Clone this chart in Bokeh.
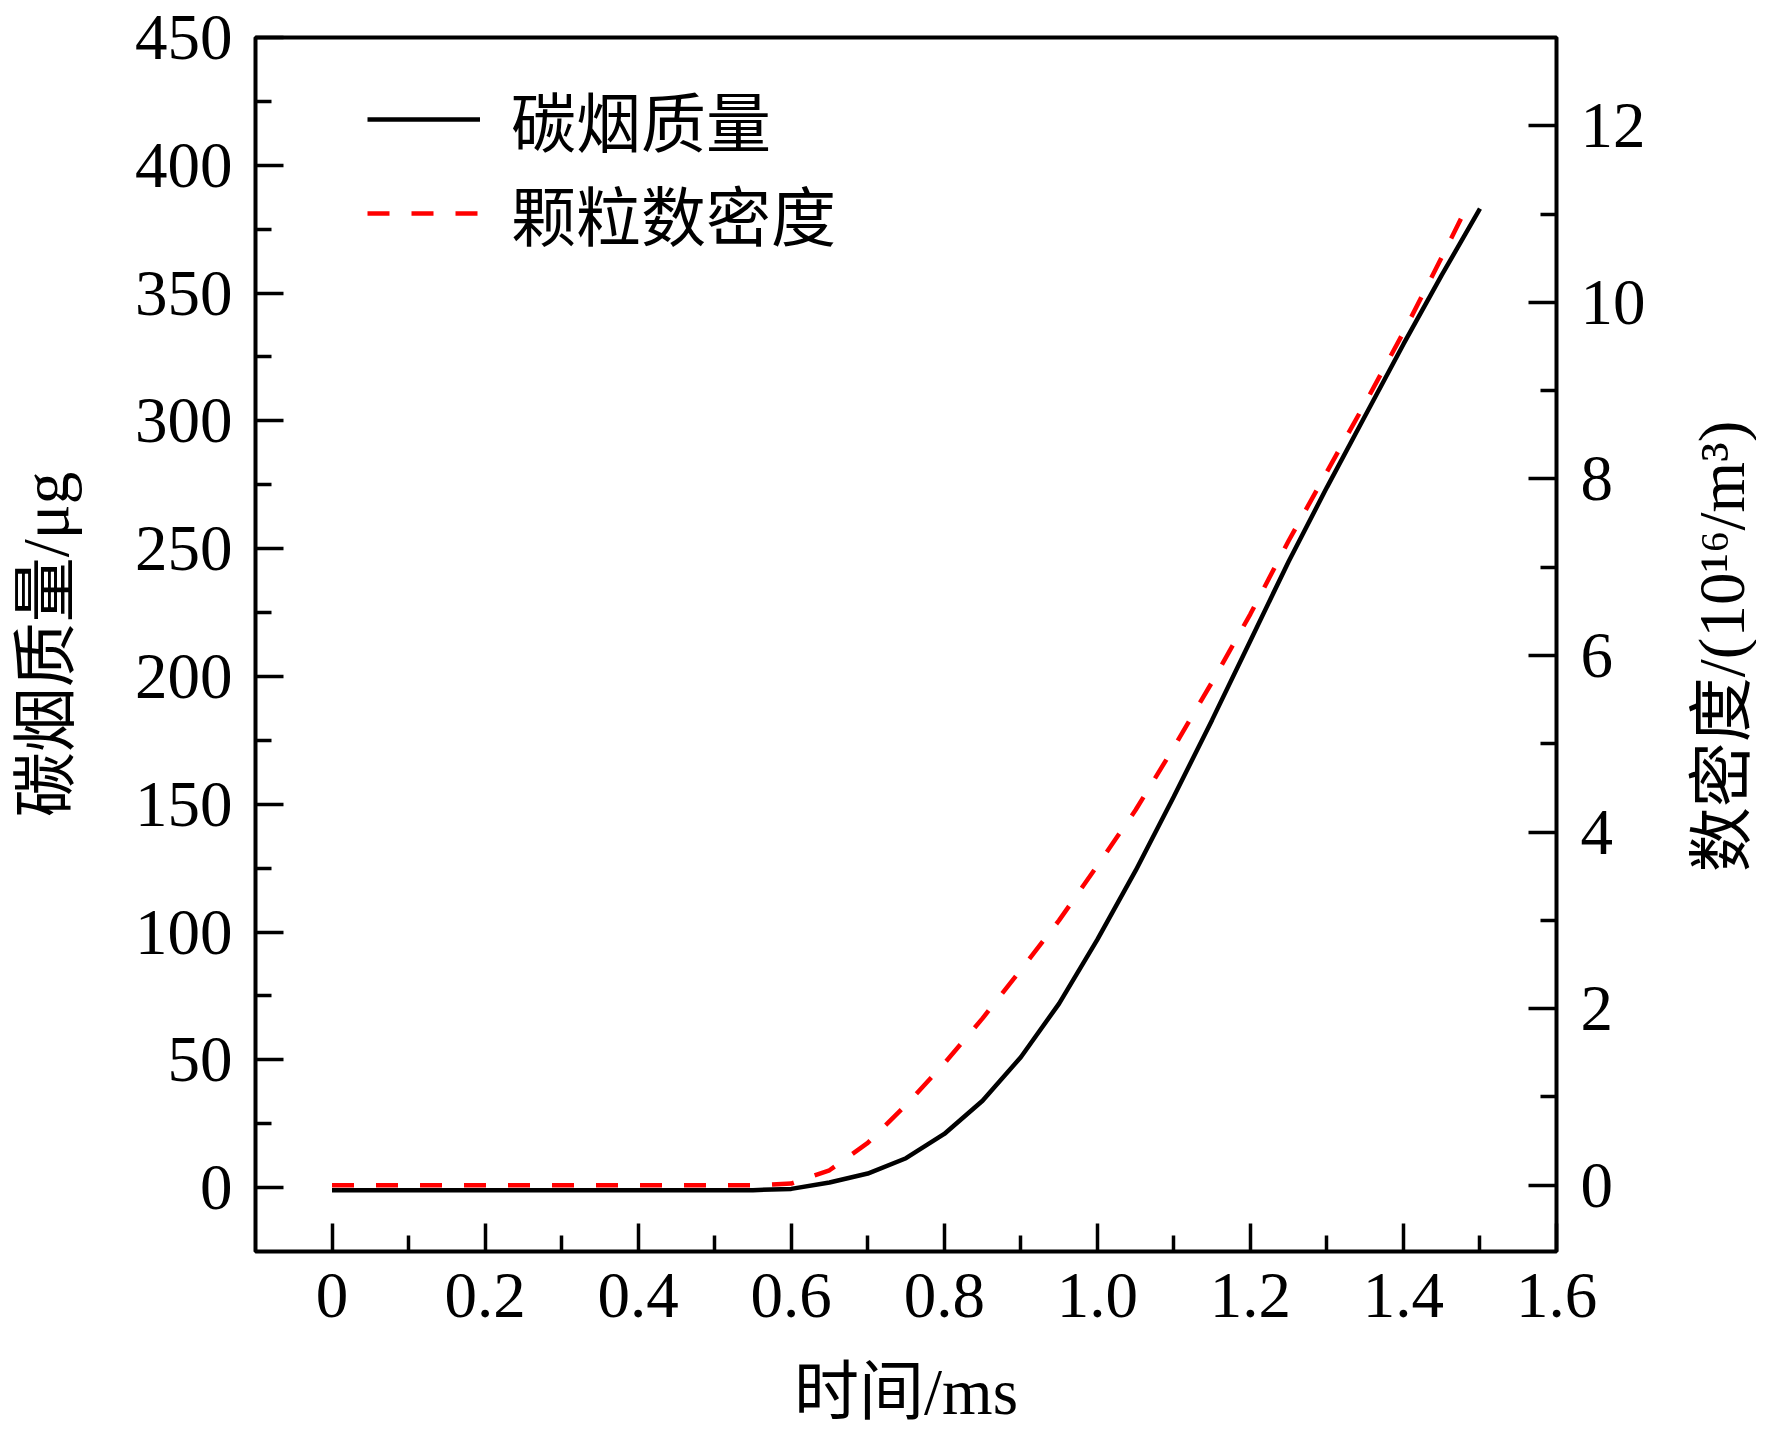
import math
from bokeh.plotting import figure
from bokeh.models import (Range1d, LinearAxis, FixedTicker, CustomJSTickFormatter,
                          Legend, LegendItem, Label)
from bokeh.embed import file_html
from bokeh.resources import INLINE

# ---------------- data ----------------
time_ms = [0.00, 0.05, 0.10, 0.15, 0.20, 0.25, 0.30, 0.35, 0.40, 0.45, 0.50, 0.55,
           0.60, 0.65, 0.70, 0.75, 0.80, 0.85, 0.90, 0.95, 1.00, 1.05, 1.10, 1.15,
           1.20, 1.25, 1.30, 1.35, 1.40, 1.45, 1.50]
soot_mass_ug = [-1, -1, -1, -1, -1, -1, -1, -1, -1, -1, -1, -1,
                -0.5, 2.0, 5.5, 11.5, 21, 34, 51, 72, 97, 124, 153, 183,
                214, 245, 274, 302, 330, 357, 383]
density_time_ms = [0.00, 0.05, 0.10, 0.15, 0.20, 0.25, 0.30, 0.35, 0.40, 0.45, 0.50, 0.55,
                   0.60, 0.65, 0.70, 0.75, 0.80, 0.85, 0.90, 0.95, 1.00, 1.05, 1.10, 1.15,
                   1.20, 1.25, 1.30, 1.35, 1.40, 1.45, 1.485]
number_density = [0, 0, 0, 0, 0, 0, 0, 0, 0, 0, 0, 0,
                  0.02, 0.17, 0.48, 0.91, 1.38, 1.89, 2.44, 3.00, 3.62, 4.25, 4.96, 5.70,
                  6.47, 7.30, 8.08, 8.86, 9.66, 10.51, 11.12]

x_ticks = [0, 0.2, 0.4, 0.6, 0.8, 1.0, 1.2, 1.4, 1.6]
x_tick_labels = ["0", "0.2", "0.4", "0.6", "0.8", "1.0", "1.2", "1.4", "1.6"]
x_minor = [0.1, 0.3, 0.5, 0.7, 0.9, 1.1, 1.3, 1.5]
yl_ticks = [0, 50, 100, 150, 200, 250, 300, 350, 400, 450]
yl_minor = [25, 75, 125, 175, 225, 275, 325, 375, 425]
yr_ticks = [0, 2, 4, 6, 8, 10, 12]
yr_minor = [1, 3, 5, 7, 9, 11]

series_names = ["碳烟质量", "颗粒数密度"]
x_title = "时间/ms"
yl_title = "碳烟质量/μg"
yr_title = "数密度/(10¹⁶/m³)"

FONT = "'Liberation Serif', 'Noto Sans CJK SC'"
FS = "65px"

p = figure(width=1756, height=1430, output_backend="svg", toolbar_location=None,
           x_range=Range1d(-0.1, 1.6), y_range=Range1d(-25, 450),
           min_border_left=255, min_border_right=200, min_border_top=37, min_border_bottom=178,
           background_fill_color="white", border_fill_color="white")
p.extra_y_ranges = {"right": Range1d(-0.75, 13)}
p.grid.visible = False
p.outline_line_color = "black"
p.outline_line_width = 4

def style_axis(ax, ticks, minor, standoff, title_standoff):
    ax.ticker = FixedTicker(ticks=ticks, minor_ticks=minor)
    ax.axis_line_color = None
    ax.major_tick_in = 28
    ax.major_tick_out = 0
    ax.minor_tick_in = 16
    ax.minor_tick_out = 0
    ax.major_tick_line_width = 3.5
    ax.minor_tick_line_width = 3.5
    ax.major_tick_line_color = "black"
    ax.minor_tick_line_color = "black"
    ax.major_label_text_font = FONT
    ax.major_label_text_font_size = FS
    ax.major_label_text_color = "black"
    ax.major_label_standoff = standoff
    ax.axis_label_text_font = FONT
    ax.axis_label_text_font_size = FS
    ax.axis_label_text_font_style = "normal"
    ax.axis_label_text_color = "black"
    ax.axis_label_standoff = title_standoff

xa = p.xaxis[0]
style_axis(xa, x_ticks, x_minor, 22, 36)
xa.axis_label = x_title
xa.formatter = CustomJSTickFormatter(args=dict(vals=x_ticks, labs=x_tick_labels), code="""
let best = 0;
for (let i = 0; i < vals.length; i++) {
  if (Math.abs(vals[i] - tick) < Math.abs(vals[best] - tick)) best = i;
}
return labs[best];
""")

ya = p.yaxis[0]
style_axis(ya, yl_ticks, yl_minor, 23, 50)
ya.axis_label = yl_title

yr = LinearAxis(y_range_name="right")
style_axis(yr, yr_ticks, yr_minor, 24, 31)
p.add_layout(yr, "right")

# right-side title, reading bottom-to-top, in its own side panel (not clipped by the frame)
p.add_layout(Label(x=73, y=605, x_units="screen", y_units="screen", text=yr_title,
                   angle=90, angle_units="deg", text_align="center", text_baseline="middle",
                   text_font=FONT, text_font_size=FS, text_color="black"), "right")

r1 = p.line(time_ms, soot_mass_ug, line_color="black", line_width=4.5)
r2 = p.line(density_time_ms, number_density, y_range_name="right", line_color="#ff0000",
            line_width=4.5, line_dash="22 22")

legend = Legend(items=[LegendItem(label=series_names[0], renderers=[r1]),
                       LegendItem(label=series_names[1], renderers=[r2])],
                location=(112, 991))
legend.border_line_color = None
legend.background_fill_alpha = 0
legend.label_text_font = FONT
legend.label_text_font_size = FS
legend.label_text_color = "black"
legend.glyph_width = 113
legend.glyph_height = 60
legend.label_height = 60
legend.label_standoff = 31
legend.spacing = 0
legend.padding = 0
legend.margin = 0
p.add_layout(legend, "center")

open("out.html", "w").write(file_html(p, INLINE))
